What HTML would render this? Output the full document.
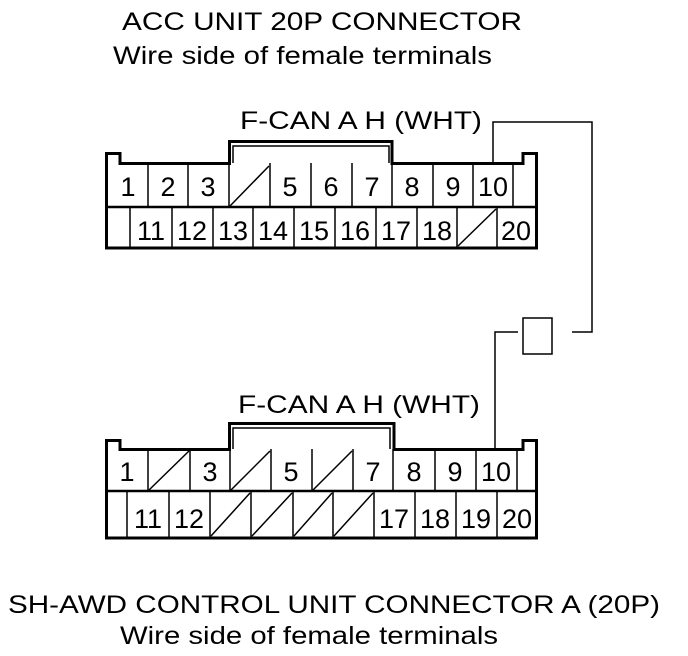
<!DOCTYPE html>
<html><head><meta charset="utf-8"><style>
html,body{margin:0;padding:0;background:#fff}
svg{display:block}
text{font-family:"Liberation Sans",Arial,sans-serif;fill:#000}
</style></head><body>
<svg width="688" height="656" viewBox="0 0 688 656" xmlns="http://www.w3.org/2000/svg">
<g font-size="25">
<text x="122" y="30" textLength="400" lengthAdjust="spacingAndGlyphs">ACC UNIT 20P CONNECTOR</text>
<text x="113" y="64" textLength="379" lengthAdjust="spacingAndGlyphs">Wire side of female terminals</text>
<text x="240" y="129" textLength="242" lengthAdjust="spacingAndGlyphs">F-CAN A H (WHT)</text>
<text x="238" y="413" textLength="242" lengthAdjust="spacingAndGlyphs">F-CAN A H (WHT)</text>
<text x="8" y="613" textLength="652" lengthAdjust="spacingAndGlyphs">SH-AWD CONTROL UNIT CONNECTOR A (20P)</text>
<text x="120" y="644" textLength="378" lengthAdjust="spacingAndGlyphs">Wire side of female terminals</text>
</g>

<!-- Top connector -->
<g fill="none" stroke="#000">
<path d="M106.5 248 V153.5 H120 V163.5 H229.5 V141.5 H392 V163.5 H523 V153.5 H536.5 V248 Z" stroke-width="3"/>
<path d="M233 163 V146 H389 V163" stroke-width="1.5"/>
<line x1="106" y1="207" x2="537" y2="207" stroke-width="2.5"/>
<g stroke-width="1.5">
<line x1="148" y1="163" x2="148" y2="207"/><line x1="188" y1="163" x2="188" y2="207"/>
<line x1="229" y1="163" x2="229" y2="207"/><line x1="270" y1="163" x2="270" y2="207"/>
<line x1="311" y1="163" x2="311" y2="207"/><line x1="352" y1="163" x2="352" y2="207"/>
<line x1="392" y1="163" x2="392" y2="207"/><line x1="433" y1="163" x2="433" y2="207"/>
<line x1="473" y1="163" x2="473" y2="207"/><line x1="513" y1="163" x2="513" y2="207"/>
<line x1="130" y1="207" x2="130" y2="247"/><line x1="172" y1="207" x2="172" y2="247"/>
<line x1="213" y1="207" x2="213" y2="247"/><line x1="253" y1="207" x2="253" y2="247"/>
<line x1="294" y1="207" x2="294" y2="247"/><line x1="335" y1="207" x2="335" y2="247"/>
<line x1="376" y1="207" x2="376" y2="247"/><line x1="417" y1="207" x2="417" y2="247"/>
<line x1="457" y1="207" x2="457" y2="247"/><line x1="497" y1="207" x2="497" y2="247"/>
<line x1="230" y1="206" x2="269" y2="166"/>
<line x1="458" y1="246" x2="496" y2="209"/>
</g>
</g>
<g font-size="27" text-anchor="middle">
<text x="128" y="196">1</text><text x="168" y="196">2</text><text x="208" y="196">3</text>
<text x="290" y="196">5</text><text x="331" y="196">6</text><text x="372" y="196">7</text>
<text x="412" y="196">8</text><text x="453" y="196">9</text><text x="493" y="196">10</text>
<text x="151" y="240">11</text><text x="192" y="240">12</text><text x="233" y="240">13</text>
<text x="273" y="240">14</text><text x="314" y="240">15</text><text x="355" y="240">16</text>
<text x="396" y="240">17</text><text x="437" y="240">18</text><text x="516" y="240">20</text>
</g>

<!-- Wire -->
<g fill="none" stroke="#000" stroke-width="1.5">
<path d="M493 163 V122 H592 V332 H572"/>
<path d="M518 332 H495 V449"/>
<rect x="523" y="318" width="29" height="36"/>
</g>

<!-- Bottom connector -->
<g fill="none" stroke="#000">
<path d="M106.5 538 V440.5 H120 V449.5 H229.5 V423.5 H394 V449.5 H523 V440.5 H536.5 V538 Z" stroke-width="3"/>
<path d="M233 449 V428 H390 V449" stroke-width="1.5"/>
<line x1="106" y1="491" x2="537" y2="491" stroke-width="2.5"/>
<g stroke-width="1.5">
<line x1="148" y1="449" x2="148" y2="491"/><line x1="190" y1="449" x2="190" y2="491"/>
<line x1="230" y1="449" x2="230" y2="491"/><line x1="271" y1="449" x2="271" y2="491"/>
<line x1="312" y1="449" x2="312" y2="491"/><line x1="353" y1="449" x2="353" y2="491"/>
<line x1="393" y1="449" x2="393" y2="491"/><line x1="435" y1="449" x2="435" y2="491"/>
<line x1="476" y1="449" x2="476" y2="491"/><line x1="517" y1="449" x2="517" y2="491"/>
<line x1="127" y1="491" x2="127" y2="537"/><line x1="169" y1="491" x2="169" y2="537"/>
<line x1="210" y1="491" x2="210" y2="537"/><line x1="251" y1="491" x2="251" y2="537"/>
<line x1="293" y1="491" x2="293" y2="537"/><line x1="333" y1="491" x2="333" y2="537"/>
<line x1="374" y1="491" x2="374" y2="537"/><line x1="415" y1="491" x2="415" y2="537"/>
<line x1="456" y1="491" x2="456" y2="537"/><line x1="497" y1="491" x2="497" y2="537"/>
<line x1="149" y1="490" x2="189" y2="451"/>
<line x1="231" y1="490" x2="270" y2="451"/>
<line x1="313" y1="490" x2="352" y2="451"/>
<line x1="211" y1="536" x2="250" y2="493"/>
<line x1="252" y1="536" x2="292" y2="493"/>
<line x1="294" y1="536" x2="332" y2="493"/>
<line x1="334" y1="536" x2="373" y2="493"/>
</g>
</g>
<g font-size="27" text-anchor="middle">
<text x="127" y="481">1</text><text x="210" y="481">3</text><text x="291" y="481">5</text>
<text x="373" y="481">7</text><text x="414" y="481">8</text><text x="455" y="481">9</text>
<text x="496" y="481">10</text>
<text x="148" y="528">11</text><text x="189" y="528">12</text>
<text x="394" y="528">17</text><text x="435" y="528">18</text><text x="476" y="528">19</text>
<text x="517" y="528">20</text>
</g>
</svg>
</body></html>
